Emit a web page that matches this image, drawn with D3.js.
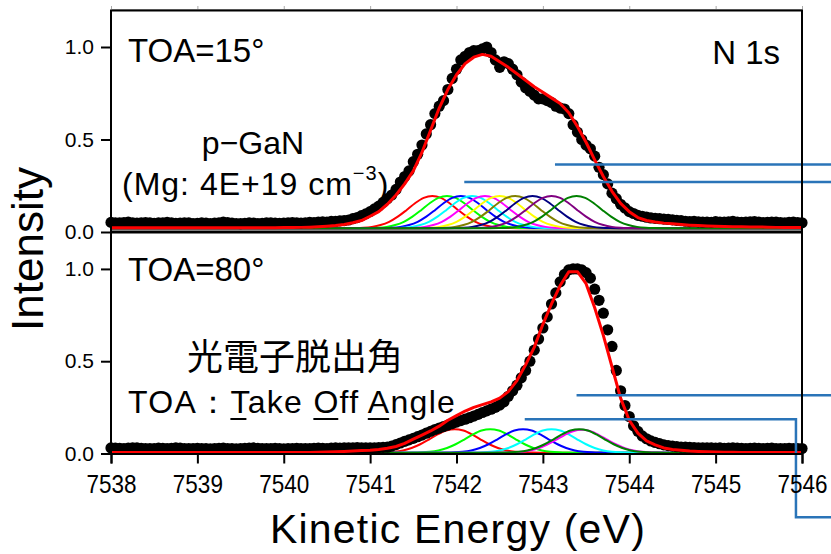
<!DOCTYPE html>
<html>
<head>
<meta charset="utf-8">
<script src="https://cdn.jsdelivr.net/npm/d3@7"></script>
<style>
  html, body { margin: 0; padding: 0; background: #fff; }
  svg { display: block; }
</style>
</head>
<body>
<svg id="chart" width="831" height="554"></svg>
<script>
// ---- N 1s spectra (normalised), measured every 0.05 eV from 7538 to 7546 eV ----
const energyMin = 7538;
const energyMax = 7546;
const sampleStep = 0.05;
const fitStep = 0.1;

const xTicks = [7538, 7539, 7540, 7541, 7542, 7543, 7544, 7545, 7546];
const yTicks = [0.0, 0.5, 1.0];

// TOA = 15 deg, measured intensity (one row per eV)
const toa15Counts = [
  0.052,0.050,0.049,0.051,0.053,0.050,0.048,0.049,0.051,0.050,0.047,0.049,0.050,0.052,0.049,0.047,0.048,0.050,0.049,0.046,
  0.047,0.049,0.048,0.046,0.048,0.050,0.053,0.051,0.048,0.046,0.045,0.047,0.049,0.048,0.046,0.047,0.049,0.050,0.048,0.047,
  0.048,0.050,0.051,0.049,0.048,0.050,0.052,0.051,0.053,0.055,0.054,0.057,0.057,0.060,0.062,0.065,0.072,0.078,0.088,0.098,
  0.110,0.125,0.140,0.160,0.180,0.200,0.230,0.270,0.300,0.330,0.380,0.420,0.470,0.530,0.580,0.640,0.680,0.710,0.770,0.830,
  0.880,0.930,0.950,0.970,0.980,0.980,0.990,1.000,0.970,0.930,0.890,0.920,0.910,0.880,0.850,0.810,0.780,0.760,0.740,0.720,
  0.720,0.710,0.700,0.680,0.670,0.665,0.640,0.580,0.540,0.500,0.470,0.450,0.410,0.350,0.310,0.260,0.210,0.180,0.150,0.130,
  0.110,0.100,0.090,0.085,0.080,0.076,0.074,0.072,0.070,0.068,0.066,0.063,0.061,0.058,0.056,0.057,0.055,0.053,0.054,0.052,
  0.056,0.054,0.053,0.055,0.057,0.054,0.052,0.053,0.055,0.056,0.053,0.051,0.052,0.054,0.053,0.051,0.050,0.052,0.053,0.051,
  0.050
];

// TOA = 80 deg, measured intensity (one row per eV)
const toa80Counts = [
  0.030,0.029,0.028,0.027,0.029,0.031,0.030,0.028,0.027,0.026,0.027,0.029,0.028,0.027,0.028,0.030,0.029,0.027,0.026,0.027,
  0.028,0.027,0.026,0.025,0.027,0.028,0.029,0.027,0.026,0.025,0.026,0.028,0.029,0.030,0.028,0.027,0.026,0.027,0.028,0.026,
  0.025,0.026,0.027,0.028,0.027,0.026,0.027,0.028,0.029,0.028,0.027,0.029,0.030,0.029,0.031,0.030,0.031,0.032,0.031,0.030,
  0.030,0.031,0.032,0.033,0.034,0.040,0.048,0.057,0.066,0.074,0.082,0.091,0.100,0.110,0.120,0.130,0.138,0.146,0.154,0.162,
  0.170,0.178,0.186,0.194,0.203,0.212,0.222,0.231,0.240,0.250,0.262,0.280,0.310,0.340,0.370,0.410,0.450,0.500,0.560,0.620,
  0.680,0.740,0.810,0.870,0.930,0.970,0.995,1.000,1.000,0.995,0.980,0.950,0.890,0.830,0.760,0.670,0.580,0.450,0.340,0.260,
  0.200,0.150,0.120,0.095,0.080,0.068,0.060,0.053,0.047,0.043,0.040,0.037,0.035,0.034,0.033,0.032,0.031,0.031,0.030,0.030,
  0.029,0.030,0.028,0.029,0.030,0.029,0.028,0.027,0.028,0.029,0.028,0.027,0.028,0.029,0.027,0.026,0.027,0.028,0.027,0.026,
  0.027
];

// Fitted envelopes, every 0.1 eV
const toa15Fit = [
  0.023,0.023,0.023,0.023,0.023,0.023,0.023,0.023,0.023,0.023,
  0.023,0.023,0.023,0.023,0.023,0.023,0.023,0.023,0.023,0.023,
  0.024,0.024,0.025,0.026,0.028,0.031,0.035,0.041,0.050,0.062,
  0.085,0.110,0.150,0.200,0.260,0.330,0.430,0.550,0.670,0.770,
  0.850,0.910,0.945,0.960,0.950,0.920,0.890,0.855,0.820,0.785,
  0.755,0.725,0.695,0.645,0.570,0.485,0.390,0.300,0.220,0.155,
  0.110,0.078,0.062,0.054,0.048,0.044,0.040,0.037,0.035,0.033,
  0.031,0.030,0.029,0.028,0.027,0.027,0.026,0.025,0.025,0.024,
  0.024
];
const toa80Fit = [
  0.005,0.005,0.005,0.005,0.005,0.005,0.005,0.005,0.005,0.005,
  0.005,0.005,0.005,0.005,0.005,0.005,0.005,0.005,0.005,0.005,
  0.005,0.005,0.006,0.006,0.007,0.008,0.009,0.011,0.013,0.016,
  0.018,0.022,0.028,0.038,0.055,0.078,0.100,0.122,0.148,0.180,
  0.205,0.230,0.250,0.265,0.280,0.300,0.335,0.395,0.480,0.575,
  0.700,0.810,0.910,0.985,0.985,0.920,0.790,0.640,0.470,0.300,
  0.180,0.110,0.068,0.047,0.030,0.022,0.017,0.013,0.011,0.009,
  0.008,0.007,0.007,0.006,0.006,0.006,0.005,0.005,0.005,0.005,
  0.005
];

// Shape shared by every fit component: relative height at offsets -1.0 ... +1.0 eV (0.1 eV apart)
const componentOffsets = [-1.0,-0.9,-0.8,-0.7,-0.6,-0.5,-0.4,-0.3,-0.2,-0.1,0,0.1,0.2,0.3,0.4,0.5,0.6,0.7,0.8,0.9,1.0];
const componentProfile = [0.002,0.006,0.017,0.044,0.100,0.200,0.360,0.560,0.775,0.940,1.000,0.940,0.775,0.560,0.360,0.200,0.100,0.044,0.017,0.006,0.002];

// TOA = 15 deg components
const toa15Centers = [7541.72, 7541.89, 7542.05, 7542.18, 7542.33, 7542.50, 7542.68, 7542.88, 7543.10, 7543.39];
const toa15Heights = [0.175, 0.175, 0.175, 0.175, 0.175, 0.175, 0.175, 0.175, 0.175, 0.175];
const toa15Colors  = ["#ff0000","#00ff00","#0000ff","#00ffff","#ff00ff","#ffff00","#808000","#000080","#800080","#008000"];
const toa15Base = 0.02;

// TOA = 80 deg components
const toa80Centers = [7541.98, 7542.39, 7542.77, 7543.10, 7543.45, 7543.42];
const toa80Heights = [0.128, 0.128, 0.128, 0.128, 0.124, 0.128];
const toa80Colors  = ["#ff0000","#00ff00","#0000ff","#00ffff","#ff00ff","#008000"];
const toa80Base = 0.004;

// Leader lines leaving the plot to the right: start energy, level, optional bend
const toa15Leaders = [
  { from: 7543.14, level: 0.365 },
  { from: 7542.09, level: 0.270 }
];
const toa80Leaders = [
  { from: 7543.39, level: 0.316 },
  { from: 7542.79, level: 0.186, bendAt: 7545.93, dropTo: -0.345 }
];

// ---- layout ----
const W = 831, H = 554;
const svg = d3.select("#chart");
const latin = "'Liberation Sans', Arial, sans-serif";
const cjk = "'Noto Sans CJK JP', sans-serif";

const x = d3.scaleLinear().domain([energyMin, energyMax]).range([111, 802]);
const yTop = d3.scaleLinear().domain([0, 1.2]).range([232, 10]);
const yBot = d3.scaleLinear().domain([0, 1.2]).range([453.5, 232]);

const energyGrid = toa15Counts.map((_, i) => energyMin + i * sampleStep);
const fitGrid = toa15Fit.map((_, i) => energyMin + i * fitStep);

function drawPanel(y, counts, fit, centers, heights, colors, base, leaders) {
  const g = svg.append("g");

  // fit components
  const compLine = d3.line().x(d => x(d[0])).y(d => y(d[1])).curve(d3.curveMonotoneX);
  centers.forEach((c, k) => {
    const pts = [[energyMin, base]];
    componentOffsets.forEach((o, j) => {
      const e = c + o;
      if (e > energyMin && e < energyMax) pts.push([e, base + heights[k] * componentProfile[j]]);
    });
    pts.push([energyMax, base]);
    g.append("path")
      .attr("d", compLine(pts))
      .attr("fill", "none")
      .attr("stroke", colors[k])
      .attr("stroke-width", 2);
  });

  // measured points
  g.append("g").selectAll("circle")
    .data(counts)
    .join("circle")
    .attr("cx", (d, i) => x(energyGrid[i]))
    .attr("cy", d => y(d))
    .attr("r", 5.6)
    .attr("fill", "#000");

  // fitted envelope
  const fitLine = d3.line().x((d, i) => x(fitGrid[i])).y(d => y(d));
  g.append("path")
    .attr("d", fitLine(fit))
    .attr("fill", "none")
    .attr("stroke", "#ff0000")
    .attr("stroke-width", 3)
    .attr("stroke-linejoin", "round");

  // leader lines
  leaders.forEach(l => {
    let pts;
    if (l.bendAt !== undefined) {
      pts = [[x(l.from), y(l.level)], [x(l.bendAt), y(l.level)], [x(l.bendAt), y(l.dropTo)], [W, y(l.dropTo)]];
    } else {
      pts = [[x(l.from), y(l.level)], [W, y(l.level)]];
    }
    svg.append("path")
      .attr("d", d3.line()(pts))
      .attr("fill", "none")
      .attr("stroke", "#2a74b8")
      .attr("stroke-width", 2.5);
  });

  // y axis
  const ax = svg.append("g")
    .attr("transform", "translate(111,0)")
    .call(d3.axisLeft(y).tickValues(yTicks).tickFormat(d3.format(".1f")).tickSize(10).tickPadding(7));
  ax.select(".domain").remove();
  ax.selectAll(".tick line").attr("stroke", "#000").attr("stroke-width", 2);
  ax.selectAll(".tick text").attr("font-family", latin).attr("font-size", 21).attr("fill", "#000");
}

drawPanel(yTop, toa15Counts, toa15Fit, toa15Centers, toa15Heights, toa15Colors, toa15Base, toa15Leaders);
drawPanel(yBot, toa80Counts, toa80Fit, toa80Centers, toa80Heights, toa80Colors, toa80Base, toa80Leaders);

// faint ticks along the top edge
const topAx = svg.append("g")
  .attr("transform", "translate(0,9)")
  .call(d3.axisTop(x).tickValues(xTicks).tickSize(3).tickFormat(""));
topAx.select(".domain").attr("stroke", "#aaa").attr("stroke-width", 1);
topAx.selectAll(".tick line").attr("stroke", "#aaa");

// frames
const frame = svg.append("g").attr("fill", "none").attr("stroke", "#000");
frame.append("rect").attr("x", 111).attr("y", 10.5).attr("width", 691).attr("height", 221.5).attr("stroke-width", 2);
frame.append("line").attr("x1", 111).attr("x2", 802).attr("y1", 232).attr("y2", 232).attr("stroke-width", 3);
frame.append("line").attr("x1", 111).attr("x2", 111).attr("y1", 232).attr("y2", 453.5).attr("stroke-width", 2);
frame.append("line").attr("x1", 802).attr("x2", 802).attr("y1", 232).attr("y2", 453.5).attr("stroke-width", 2);

// bottom energy axis
const xAx = svg.append("g")
  .attr("transform", "translate(0,453.5)")
  .call(d3.axisBottom(x).tickValues(xTicks).tickFormat(d3.format("d")).tickSize(10).tickPadding(12));
xAx.select(".domain").attr("stroke", "#000").attr("stroke-width", 2);
xAx.selectAll(".tick line").attr("stroke", "#000").attr("stroke-width", 2);
xAx.selectAll(".tick text")
  .attr("font-family", latin).attr("font-size", 25).attr("fill", "#000")
  .attr("transform", "scale(0.9,1)");

// axis titles
svg.append("text")
  .attr("transform", "translate(43,249) rotate(-90)")
  .attr("text-anchor", "middle")
  .attr("font-family", latin).attr("font-size", 44)
  .text("Intensity");
svg.append("text")
  .attr("x", 458).attr("y", 543)
  .attr("text-anchor", "middle")
  .attr("font-family", latin).attr("font-size", 41)
  .attr("letter-spacing", 1.2)
  .text("Kinetic Energy (eV)");

// panel annotations
function label(px, py, txt, size, anchor, family) {
  return svg.append("text")
    .attr("x", px).attr("y", py)
    .attr("text-anchor", anchor || "start")
    .attr("font-family", family || latin)
    .attr("font-size", size)
    .attr("fill", "#000")
    .text(txt);
}
label(128, 62, "TOA=15°", 33);
label(780, 64, "N 1s", 33, "end");
label(253, 154, "p−GaN", 32, "middle");
const mg = label(122, 195, "(Mg: 4E+19 cm", 32).attr("letter-spacing", 1);
mg.append("tspan").attr("dy", -15).attr("font-size", 20).text("−3");
mg.append("tspan").attr("dy", 15).text(")");

label(128, 281, "TOA=80°", 33);
label(295, 370, "光電子脱出角", 36, "middle", cjk);
const toaText = label(128, 413, "TOA：Take Off Angle", 32).attr("letter-spacing", 1.3);
[4, 9, 13].forEach(i => {
  const b = toaText.node().getExtentOfChar(i);
  svg.append("line")
    .attr("x1", b.x).attr("x2", b.x + b.width - 1.3)
    .attr("y1", 419).attr("y2", 419)
    .attr("stroke", "#000").attr("stroke-width", 2);
});
</script>
</body>
</html>
